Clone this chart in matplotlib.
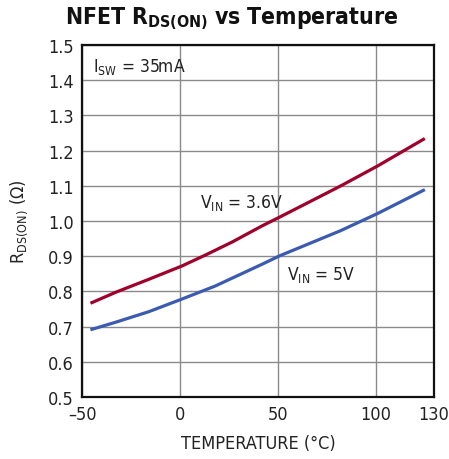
import numpy as np
import matplotlib
matplotlib.use('Agg')
import matplotlib.pyplot as plt

# values
temp_36 = [-45, -33, -16, 1, 13, 27, 42, 51, 63, 82, 101, 124.5]
rds_36 = [0.768, 0.797, 0.834, 0.872, 0.903, 0.941, 0.986, 1.011, 1.045, 1.099, 1.156, 1.232]
temp_5 = [-45, -33, -16, 1, 18, 42, 51, 82, 101, 124.5]
rds_5 = [0.692, 0.712, 0.742, 0.778, 0.815, 0.877, 0.901, 0.972, 1.021, 1.087]
x_ticks = [-50, 0, 50, 100, 130]
x_tick_labels = ['\u201350', '0', '50', '100', '130']
y_ticks = [0.5, 0.6, 0.7, 0.8, 0.9, 1.0, 1.1, 1.2, 1.3, 1.4, 1.5]

plt.rcParams['font.family'] = ['DejaVu Sans']
plt.rcParams['font.stretch'] = 'condensed'
plt.rcParams['mathtext.fontset'] = 'custom'
plt.rcParams['mathtext.rm'] = 'DejaVu Sans:stretch=condensed'
plt.rcParams['mathtext.bf'] = 'DejaVu Sans:bold:stretch=condensed'
plt.rcParams['mathtext.it'] = 'DejaVu Sans:stretch=condensed'

fig = plt.figure(figsize=(4.49, 4.60), dpi=100)
ax = fig.add_axes([0.183, 0.135, 0.784, 0.765])

ax.plot(temp_36, rds_36, color='#a0002c', lw=2.3)
ax.plot(temp_5, rds_5, color='#3b5bb0', lw=2.3)

ax.set_xlim(-50, 130)
ax.set_ylim(0.5, 1.5)
ax.set_xticks(x_ticks)
ax.set_xticklabels(x_tick_labels)
ax.set_yticks(y_ticks)
ax.set_yticklabels([f'{v:.1f}' for v in y_ticks])
ax.grid(True, color='#8a8a8a', lw=1.0)
ax.tick_params(length=0, labelsize=13, pad=6, colors='#222222')
for s in ax.spines.values():
    s.set_linewidth(1.6)
    s.set_color('#111111')

ax.text(-44.5, 1.44, r'$\mathregular{I_{SW}}$ = 35mA', fontsize=12.5, va='center', ha='left', color='#222222')
ax.text(10.5, 1.055, r'$\mathregular{V_{IN}}$ = 3.6V', fontsize=12.5, va='center', ha='left', color='#222222')
ax.text(54.5, 0.85, r'$\mathregular{V_{IN}}$ = 5V', fontsize=12.5, va='center', ha='left', color='#222222')

ax.set_xlabel('TEMPERATURE (\u00b0C)', fontsize=13, labelpad=8, color='#222222')
ax.set_ylabel(r'$\mathregular{R_{DS(ON)}}$ ($\Omega$)', fontsize=13, labelpad=13, color='#222222')

fig.text(0.517, 0.96, r'$\mathbf{NFET\ R_{DS(ON)}\ vs\ Temperature}$', fontsize=16.5,
         ha='center', va='center', color='#111111')

fig.savefig('out.png', dpi=100)
